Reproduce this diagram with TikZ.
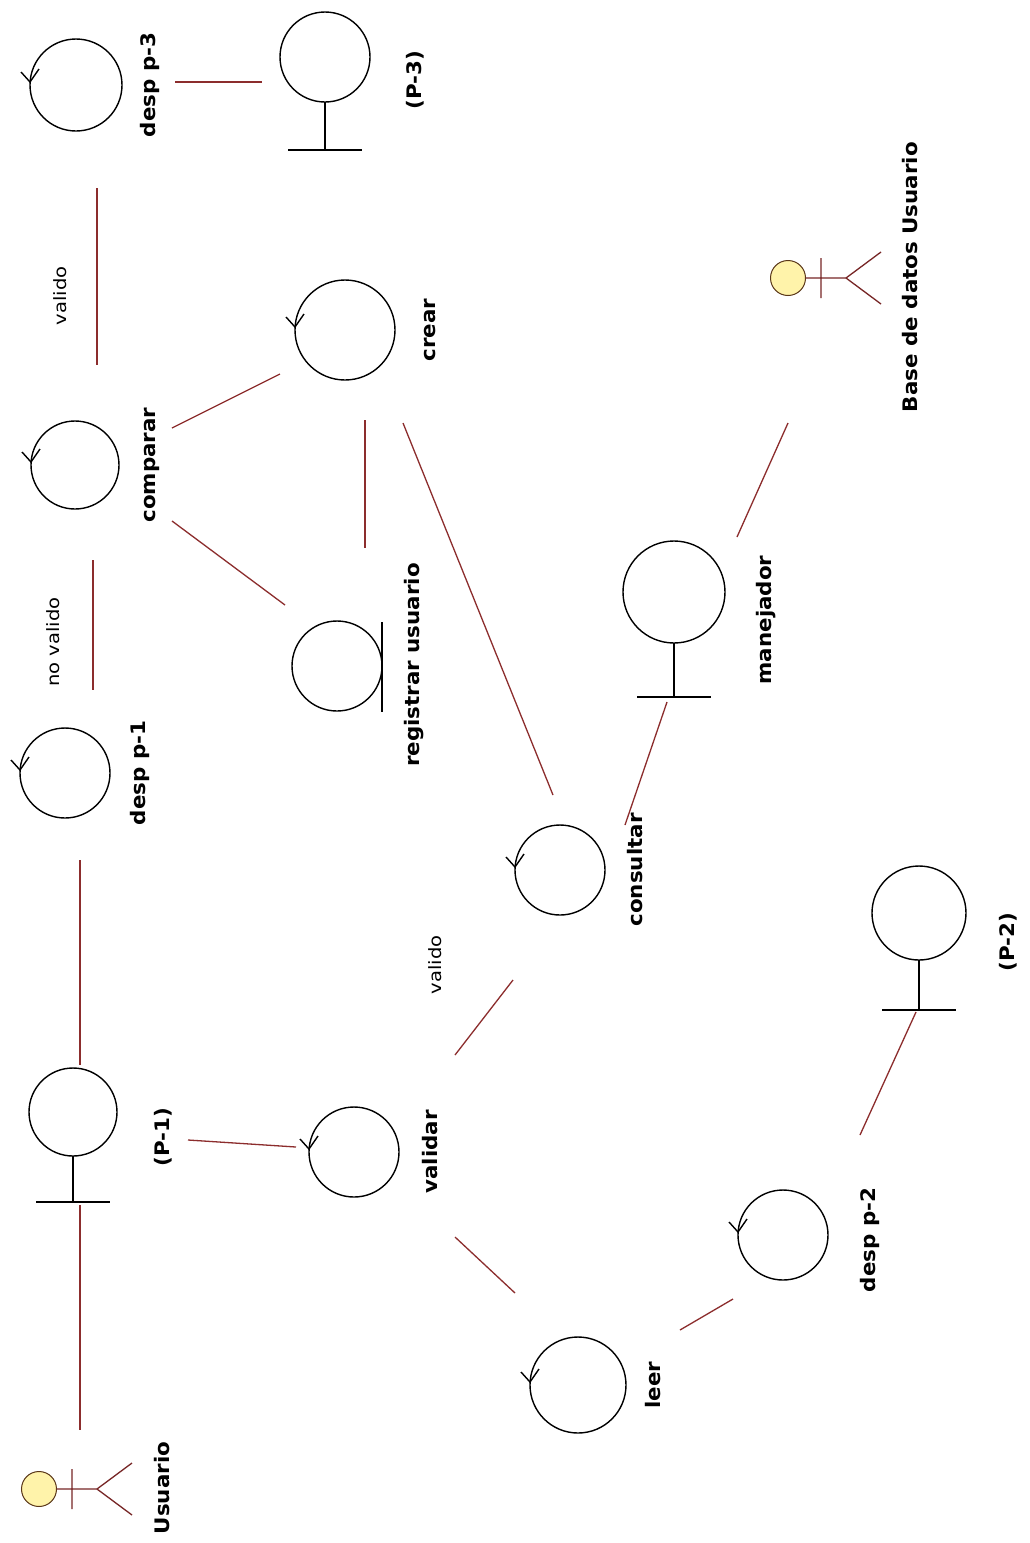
\documentclass[tikz,border=0pt]{standalone}
\usepackage{fontspec}
\setmainfont{DejaVu Sans}
\usetikzlibrary{calc}
\definecolor{linkc}{RGB}{140,45,45}
\definecolor{headfill}{RGB}{255,243,170}
\definecolor{headline}{RGB}{90,55,25}
\newcommand\stx[1]{\scalebox{1.07}[1]{#1}}
\newcommand\sty[1]{\scalebox{1.15}[1]{#1}}
\newcommand\ctrlobj[4]{%
  \node[icon=#4] (#1) at (#2,#3) {};
  \draw[iconline] ([yshift=3pt]#1.west) ++(-9,-10) -- ([yshift=3pt]#1.west) -- ++(9,-13);
}
\newcommand\bndobj[5]{%
  \node[icon=#4] (#1) at (#2,#3) {};
  \draw[iconline] (#1.south) -- ++(0,#5) ++(-37,0) -- ++(74,0);
}
\newcommand\actorobj[3]{%
  \node[circle,draw=headline,fill=headfill,line width=1pt,minimum size=35] (#1) at (#2,#3) {};
  \draw[actline] (#1.east) -- ([shift={(58,0)}]#1.center) -- ([shift={(93,-26)}]#1.center)
    ([shift={(58,0)}]#1.center) -- ([shift={(93,26)}]#1.center)
    ([shift={(33,-20)}]#1.center) -- ([shift={(33,20)}]#1.center);
}
\begin{document}
\begin{tikzpicture}[x=1pt,y=-1pt,
  every node/.style={inner sep=0pt,outer sep=0pt},
  icon/.style={draw=black,line width=1.4pt,circle,minimum size=#1},
  icon/.default=90,
  iconline/.style={draw=black,line width=1.4pt},
  actline/.style={draw=linkc!85!black,line width=1.3pt},
  link/.style={draw=linkc,line width=1.3pt},
  lbl/.style={rotate=90,font=\bfseries\fontsize{20}{24}\selectfont},
  elbl/.style={rotate=90,font=\fontsize{17}{20}\selectfont}]
\fill[white] (0,0) rectangle (1029,1543);
\useasboundingbox (0,0) rectangle (1029,1543);

% controls
\ctrlobj{despp3}{76}{85}{92}
\ctrlobj{comparar}{75}{465}{88}
\ctrlobj{despp1}{65}{773}{90}
\ctrlobj{crear}{345}{330}{100}
\ctrlobj{consultar}{560}{870}{90}
\ctrlobj{validar}{354}{1152}{90}
\ctrlobj{leer}{578}{1385}{96}
\ctrlobj{despp2}{783}{1235}{90}

% boundaries
\bndobj{p3}{325}{57}{90}{48}
\bndobj{manejador}{674}{592}{102}{54}
\bndobj{p2}{919}{913}{94}{50}
\bndobj{p1}{73}{1112}{88}{46}

% entity
\node[icon=90] (registrar) at (337,666) {};
\draw[iconline] ([shift={(0,-44)}]registrar.east) -- ([shift={(0,46)}]registrar.east);

% actors
\actorobj{usuario}{39}{1489}
\actorobj{bd}{788}{278}

% labels
\node[lbl] (l-despp3) at (150,85) {\stx{desp p-3}};
\node[lbl] (l-p3) at (415,80) {\stx{(P-3)}};
\node[lbl] (l-comparar) at (152,465) {\stx{comparar}};
\node[lbl] (l-despp1) at (140,773) {\stx{desp p-1}};
\node[lbl] (l-registrar) at (414,665) {\stx{registrar usuario}};
\node[lbl] (l-crear) at (430,330) {\stx{crear}};
\node[lbl] (l-manejador) at (766,620) {\stx{manejador}};
\node[lbl] (l-consultar) at (635,870) {\stx{consultar}};
\node[lbl] (l-validar) at (430,1152) {\stx{validar}};
\node[lbl] (l-leer) at (653,1385) {\stx{leer}};
\node[lbl] (l-despp2) at (870,1240) {\stx{desp p-2}};
\node[lbl] (l-p2) at (1008,942) {\stx{(P-2)}};
\node[lbl] (l-p1) at (163,1137) {\stx{(P-1)}};
\node[lbl] (l-usuario) at (162,1488) {\stx{Usuario}};
\node[lbl] (l-bd) at (910,277) {\stx{Base de datos Usuario}};

% connectors
\draw[link] ([shift={(99,-3)}]despp3.center) -- ([shift={(-63,25)}]p3.center);
\draw[link] ([shift={(21,103)}]despp3.center) -- ([shift={(22,-100)}]comparar.center);
\draw[link] ([shift={(18,95)}]comparar.center) -- ([shift={(28,-83)}]despp1.center);
\draw[link] ([shift={(97,-37)}]comparar.center) -- ([shift={(-65,44)}]crear.center);
\draw[link] ([shift={(97,56)}]comparar.center) -- ([shift={(-52,-61)}]registrar.center);
\draw[link] ([shift={(20,90)}]crear.center) -- ([shift={(28,-118)}]registrar.center);
\draw[link] ([shift={(58,93)}]crear.center) -- ([shift={(-7,-75)}]consultar.center);
\draw[link] ([shift={(65,-45)}]consultar.center) -- ([shift={(-7,110)}]manejador.center);
\draw[link] ([shift={(63,-55)}]manejador.center) -- ([shift={(0,145)}]bd.center);
\draw[link] ([shift={(15,87)}]despp1.center) -- ([shift={(7,-47)}]p1.center);
\draw[link] ([shift={(7,93)}]p1.center) -- ([shift={(41,-59)}]usuario.center);
\draw[link] ([shift={(115,28)}]p1.center) -- ([shift={(-58,-5)}]validar.center);
\draw[link] ([shift={(101,-97)}]validar.center) -- ([shift={(-47,110)}]consultar.center);
\draw[link] ([shift={(101,85)}]validar.center) -- ([shift={(-63,-92)}]leer.center);
\draw[link] ([shift={(102,-55)}]leer.center) -- ([shift={(-50,64)}]despp2.center);
\draw[link] ([shift={(77,-100)}]despp2.center) -- ([shift={(-3,99)}]p2.center);

% connector labels
\node[elbl] (e-valido1) at (60,296) {\sty{valido}};
\node[elbl] (e-novalido) at (53,642) {\sty{no valido}};
\node[elbl] (e-valido2) at (435,965) {\sty{valido}};
\end{tikzpicture}
\end{document}
